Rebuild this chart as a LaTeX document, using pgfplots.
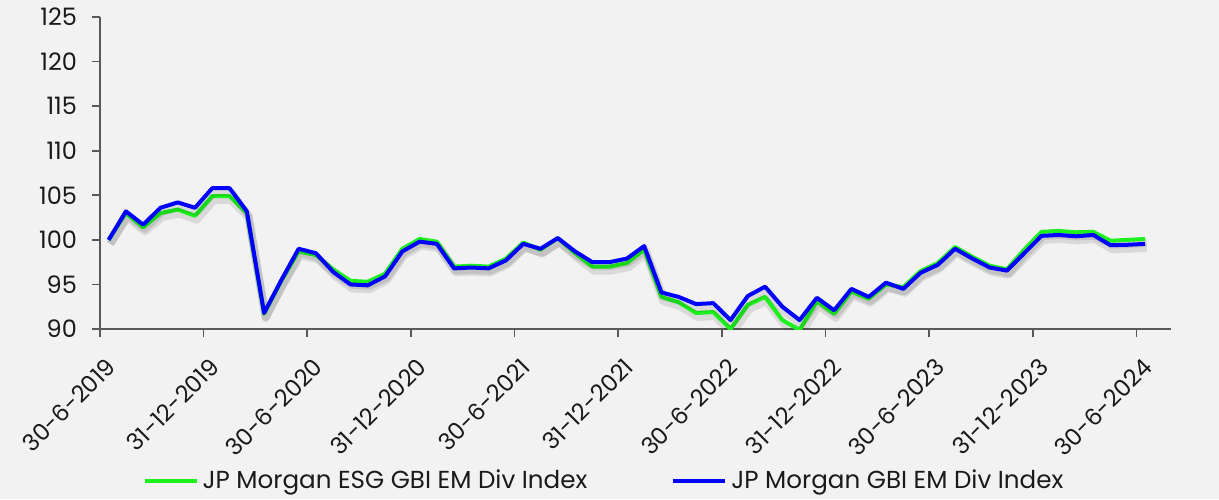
\documentclass[border=0pt]{standalone}
\usepackage{pgfplots}
\pgfplotsset{compat=1.18}
\usepackage{pgfplotstable}
\usepackage{fontspec}
\setmainfont{Poppins}
\definecolor{bg}{HTML}{F2F2F2}
\definecolor{axisgray}{HTML}{595959}
\definecolor{esggreen}{HTML}{1EF01E}
\definecolor{gbiblue}{HTML}{0000FF}
\definecolor{txt}{HTML}{1A1A1A}
\pgfplotstableread{
i esg gbi
0 100.0 100.0
1 103.0 103.2
2 101.4 101.7
3 103.0 103.6
4 103.4 104.2
5 102.7 103.6
6 104.9 105.8
7 104.9 105.8
8 103.0 103.2
9 91.7 91.8
10 95.4 95.5
11 98.7 99.0
12 98.3 98.5
13 96.7 96.4
14 95.4 95.0
15 95.3 94.9
16 96.2 95.9
17 99.0 98.7
18 100.1 99.8
19 99.8 99.55
20 97.0 96.8
21 97.1 96.9
22 97.0 96.8
23 97.9 97.7
24 99.7 99.55
25 98.9 99.0
26 100.2 100.2
27 98.5 98.7
28 97.0 97.5
29 97.0 97.5
30 97.4 97.9
31 98.9 99.3
32 93.6 94.1
33 93.0 93.6
34 91.8 92.8
35 91.9 92.9
36 90.0 91.0
37 92.7 93.7
38 93.6 94.75
39 91.0 92.5
40 89.9 91.0
41 93.1 93.5
42 91.7 92.1
43 94.2 94.5
44 93.4 93.6
45 95.0 95.2
46 94.7 94.5
47 96.5 96.3
48 97.4 97.2
49 99.2 99.0
50 98.1 97.9
51 97.1 96.9
52 96.7 96.55
53 98.9 98.5
54 100.9 100.45
55 101.0 100.55
56 100.85 100.4
57 100.9 100.55
58 99.9 99.4
59 100.0 99.45
60 100.1 99.55
}\datatable
\begin{document}
\begin{tikzpicture}
\fill[bg] (-50pt,-85pt) rectangle (559.5pt,164.5pt);
\begin{axis}[
  at={(0pt,0pt)}, anchor=south west,
  scale only axis, width=535.5pt, height=156pt,
  xmin=-0.5, xmax=61.5, ymin=90, ymax=125,
  axis lines*=left,
  axis line style={axisgray, line width=0.8pt, -},
  every tick/.style={axisgray, line width=0.8pt},
  tick align=outside, major tick length=4pt,
  xtick={-0.5,5.5,...,59.5},
  xticklabels={30-6-2019,31-12-2019,30-6-2020,31-12-2020,30-6-2021,31-12-2021,30-6-2022,31-12-2022,30-6-2023,31-12-2023,30-6-2024},
  ytick={90,95,...,125},
  /pgf/number format/assume math mode=true,
  tick label style={text=txt},
  xticklabel style={font=\fontsize{11.7}{13}\selectfont, xshift=8pt, yshift=-10.5pt, rotate=45, anchor=east},
  yticklabel style={font=\fontsize{12}{14}\selectfont, xshift=-4pt},
  legend style={at={(0.4715,-0.487)}, anchor=center, draw=none, fill=none,
    font=\fontsize{12.3}{14}\selectfont, text=txt, legend columns=2,
    /tikz/every even column/.append style={column sep=40pt}},
  legend image code/.code={\draw[#1] (0pt,0pt) -- (26pt,0pt);},
  clip=true,
]
\addplot[forget plot, esggreen, line width=2pt, line join=round,
  preaction={draw=black, opacity=0.10, line width=4pt, transform canvas={xshift=0.8pt, yshift=-2pt}}]
  table[x=i, y=esg] {\datatable};
\addplot[forget plot, gbiblue, line width=2pt, line join=round,
  preaction={draw=black, opacity=0.10, line width=4pt, transform canvas={xshift=0.8pt, yshift=-2pt}}]
  table[x=i, y=gbi] {\datatable};
\addlegendimage{esggreen, line width=2pt}
\addlegendentry{JP Morgan ESG GBI EM Div Index}
\addlegendimage{gbiblue, line width=2pt}
\addlegendentry{JP Morgan GBI EM Div Index}
\end{axis}
\end{tikzpicture}
\end{document}
